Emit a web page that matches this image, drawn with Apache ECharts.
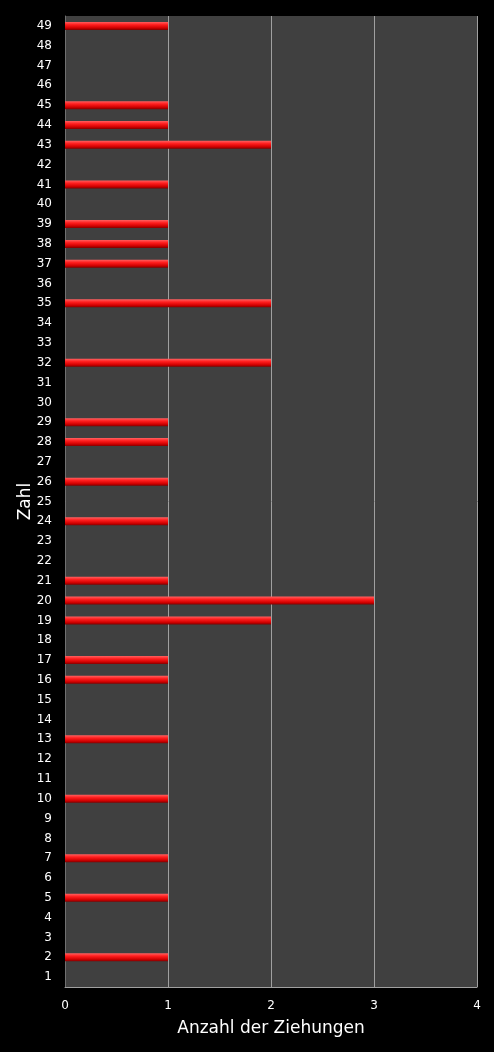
<!DOCTYPE html>
<html>
<head>
<meta charset="utf-8">
<style>
  html, body { margin: 0; padding: 0; background: #000; }
  #chart { width: 494px; height: 1052px; }
</style>
<script src="https://cdn.jsdelivr.net/npm/echarts@6/dist/echarts.min.js"></script>
</head>
<body>
<div id="chart"></div>
<script>
// Zahlen 1..49 (von unten nach oben)
var zahlen = [];
for (var i = 1; i <= 49; i++) zahlen.push(String(i));

// Anzahl der Ziehungen je Zahl
var anzahl = [
  0, 1, 0, 0, 1, 0, 1, 0, 0, 1,   // 1-10
  0, 0, 1, 0, 0, 1, 1, 0, 2, 3,   // 11-20
  1, 0, 0, 1, 0, 1, 0, 1, 1, 0,   // 21-30
  0, 2, 0, 0, 2, 0, 1, 1, 1, 0,   // 31-40
  1, 0, 2, 1, 1, 0, 0, 0, 1       // 41-49
];

var xTicks = [0, 1, 2, 3, 4];

var chart = echarts.init(document.getElementById("chart"));
var font = "DejaVu Sans";

chart.setOption({
  backgroundColor: "#000",
  animation: false,
  grid: {
    left: 65, right: 17, top: 16, bottom: 65,
    show: true, backgroundColor: "#404040", borderWidth: 0
  },
  xAxis: {
    type: "value",
    min: xTicks[0], max: xTicks[xTicks.length - 1], interval: 1,
    name: "Anzahl der Ziehungen",
    nameLocation: "middle",
    nameGap: 33,
    nameTextStyle: { color: "#fff", fontSize: 17, fontFamily: font },
    axisLine: { show: true, lineStyle: { color: "#a0a0a0", width: 1 } },
    axisTick: { show: false },
    axisLabel: { color: "#fff", fontSize: 12, fontFamily: font, margin: 13 },
    splitLine: { show: true, lineStyle: { color: "#a0a0a0", width: 1 } }
  },
  yAxis: {
    type: "category",
    data: zahlen,
    name: "Zahl",
    nameLocation: "middle",
    nameGap: 31,
    nameMoveOverlap: false,
    nameTextStyle: { color: "#fff", fontSize: 17, fontFamily: font },
    axisLine: { show: true, lineStyle: { color: "#707070", width: 1 } },
    axisTick: { show: false },
    axisLabel: { color: "#fff", fontSize: 12, fontFamily: font, margin: 13, interval: 0 },
    splitLine: { show: false }
  },
  series: [{
    type: "bar",
    data: anzahl,
    barWidth: 8,
    itemStyle: {
      color: new echarts.graphic.LinearGradient(0, 0, 0, 1, [
        { offset: 0, color: "#ff6060" },
        { offset: 0.35, color: "#ff1e1e" },
        { offset: 0.75, color: "#d00000" },
        { offset: 1, color: "#800000" }
      ])
    }
  }]
});
</script>
</body>
</html>
